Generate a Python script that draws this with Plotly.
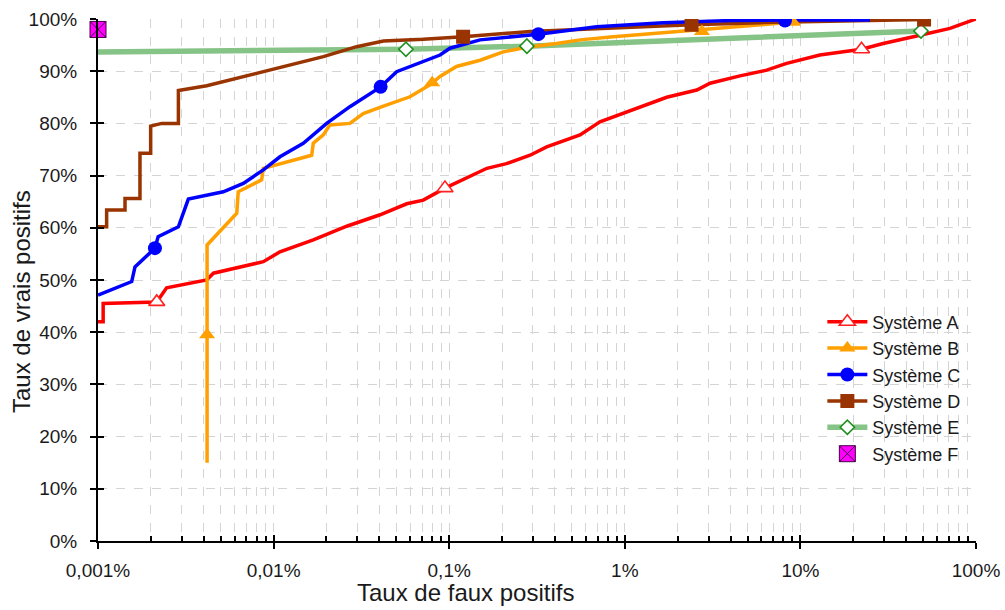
import plotly.graph_objects as go

# ---------------- data (x = taux de faux positifs in %, y = taux de vrais positifs in %) ----------------
A_x = [0.001, 0.00107, 0.00107, 0.00216, 0.00246, 0.00313, 0.00416, 0.00454, 0.00644, 0.00874,
       0.01087, 0.01683, 0.0261, 0.0404, 0.0573, 0.0712, 0.0946, 0.126, 0.164, 0.212,
       0.289, 0.359, 0.556, 0.722, 1.117, 1.733, 2.57, 3.06, 4.53, 6.43,
       8.35, 12.9, 22.3, 29.6, 48.0, 71.1, 100]
A_y = [42.0, 42.0, 45.5, 45.8, 48.5, 49.2, 50.0, 51.3, 52.5, 53.5,
       55.4, 57.7, 60.3, 62.5, 64.6, 65.3, 67.6, 69.5, 71.4, 72.3,
       73.9, 75.5, 77.8, 80.3, 82.6, 85.0, 86.4, 87.7, 89.1, 90.2,
       91.5, 93.1, 94.2, 95.3, 96.9, 98.2, 100]
A_mx = [0.00216, 0.0946, 22.3]
A_my = [45.8, 67.6, 94.2]

B_x = [0.00418, 0.00418, 0.00617, 0.00629, 0.00855, 0.00874, 0.01648, 0.01683, 0.0192, 0.0209,
       0.0272, 0.0324, 0.0422, 0.0598, 0.0777, 0.0887, 0.110, 0.150, 0.203, 0.276,
       0.409, 0.556, 0.860, 1.333, 1.976, 2.75, 5.16, 9.08]
B_y = [15.0, 56.7, 62.8, 66.9, 69.2, 71.4, 73.9, 76.2, 77.8, 79.7,
       80.0, 81.9, 83.3, 85.1, 87.4, 89.0, 90.9, 92.1, 93.7, 94.6,
       95.3, 96.0, 96.6, 97.1, 97.6, 98.0, 98.6, 99.4]
B_mx = [0.00418, 0.08, 2.75, 9.08]
B_my = [39.5, 87.8, 97.6, 99.4]

C_x = [0.001, 0.001556, 0.001624, 0.00211, 0.0022, 0.00287, 0.00306, 0.00327, 0.00517, 0.00672,
       0.00874, 0.01087, 0.01476, 0.02005, 0.0272, 0.0354, 0.0407, 0.0502, 0.0712, 0.0887,
       0.101, 0.150, 0.322, 0.692, 1.656, 3.97, 8.17, 24.9]
C_y = [47.1, 49.7, 52.5, 56.1, 58.3, 60.2, 62.8, 65.5, 66.9, 68.5,
       71.1, 73.6, 76.2, 80.0, 83.2, 85.8, 87.0, 89.9, 91.8, 93.1,
       94.4, 96.0, 97.1, 98.5, 99.3, 99.7, 99.8, 99.8]
C_mx = [0.00211, 0.0407, 0.322, 8.17]
C_my = [56.1, 87.0, 97.1, 99.7]

D_x = [0.001, 0.00112, 0.00112, 0.001425, 0.001425, 0.001734, 0.001734, 0.001995, 0.001995, 0.002306,
       0.00287, 0.00287, 0.00416, 0.00617, 0.00874, 0.0124, 0.0192, 0.0297, 0.0422, 0.0712,
       0.0887, 0.120, 0.289, 0.692, 2.40, 5.89, 19.1, 50.6]
D_y = [60.2, 60.2, 63.4, 63.4, 65.6, 65.6, 74.3, 74.3, 79.5, 80.0,
       80.0, 86.3, 87.2, 88.6, 89.9, 91.2, 92.8, 94.7, 95.8, 96.1,
       96.3, 96.6, 97.6, 98.2, 98.9, 99.3, 99.6, 99.9]
D_mx = [0.120, 2.40, 50.6]
D_my = [96.6, 98.9, 99.9]

E_x = [0.001, 0.003, 0.01, 0.0567, 0.277, 1.0, 5.0, 20.0, 48.6]
E_y = [93.7, 93.9, 94.0, 94.2, 94.8, 95.5, 96.3, 97.0, 97.7]
E_mx = [0.0567, 0.277, 48.6]
E_my = [94.2, 94.8, 97.7]

F_x = [0.001]
F_y = [98.0]

names = ["Système A", "Système B", "Système C", "Système D", "Système E", "Système F"]

x_tickvals = [0.001, 0.01, 0.1, 1, 10, 100]
x_ticktext = ["0,001%", "0,01%", "0,1%", "1%", "10%", "100%"]
y_tickvals = [0, 10, 20, 30, 40, 50, 60, 70, 80, 90, 100]
y_ticktext = [f"{v}%" for v in y_tickvals]

x_title = "Taux de faux positifs"
y_title = "Taux de vrais positifs"

# ---------------- figure ----------------
FONT = "Liberation Sans, Arial, sans-serif"


def gapped(vals):
    out = []
    for v in vals:
        out += [v, None]
    return out[:-1]


fig = go.Figure()

series = [
    (E_x, E_y, E_mx, E_my, names[4], "#86c386", 5.5,
     dict(symbol="diamond", size=11, color="white", line=dict(color="#1f8f1f", width=1.6))),
    (A_x, A_y, A_mx, A_my, names[0], "#ff0000", 3.5,
     dict(symbol="triangle-up", size=14, color="white", line=dict(color="#ff2020", width=1.6))),
    (B_x, B_y, B_mx, B_my, names[1], "#ffa000", 3.5,
     dict(symbol="triangle-up", size=14, color="#ffa000", line=dict(width=0))),
    (D_x, D_y, D_mx, D_my, names[3], "#993300", 3.5,
     dict(symbol="square", size=14, color="#993300", line=dict(width=0))),
    (C_x, C_y, C_mx, C_my, names[2], "#0000ff", 3.5,
     dict(symbol="circle", size=14, color="#0000ff", line=dict(width=0))),
]

rank = {names[i]: i for i in range(6)}

for sx, sy, mx, my, nm, col, w, mk in series:
    fig.add_trace(go.Scatter(x=sx, y=sy, mode="lines", line=dict(color=col, width=w),
                             legendgroup=nm, showlegend=False, hoverinfo="skip"))
for sx, sy, mx, my, nm, col, w, mk in series:
    fig.add_trace(go.Scatter(x=gapped(mx), y=gapped(my), mode="lines+markers",
                             line=dict(color=col, width=w), marker=mk, connectgaps=False,
                             name=nm, legendgroup=nm, legendrank=rank[nm]))

fig.add_trace(go.Scatter(x=F_x, y=F_y, mode="markers", name=names[5], legendrank=5,
                         marker=dict(symbol="square-x", size=16, color="#ff00ff",
                                     line=dict(color="#440044", width=1)),
                         cliponaxis=False))

# empty trace on overlay axes so the crossing (inside) ticks are drawn
fig.add_trace(go.Scatter(x=[], y=[], xaxis="x2", yaxis="y2", showlegend=False, hoverinfo="skip"))

fig.update_layout(
    width=1005, height=610,
    margin=dict(l=98, r=29, t=19, b=69),
    paper_bgcolor="white", plot_bgcolor="white",
    font=dict(family=FONT, size=19, color="#1a1a1a"),
    legend=dict(x=0.825, y=0.455, xanchor="left", yanchor="top",
                bgcolor="rgba(0,0,0,0)", font=dict(size=18), tracegroupgap=0,
                itemwidth=40),
    showlegend=True,
    annotations=[
        dict(text=x_title, xref="paper", yref="paper", x=(465 - 98) / 878, y=(541 - 592) / 522,
             xanchor="center", yanchor="middle", showarrow=False, font=dict(size=24)),
        dict(text=y_title, xref="paper", yref="paper", x=(21 - 98) / 878, y=(541 - 302) / 522,
             xanchor="center", yanchor="middle", showarrow=False, textangle=-90,
             font=dict(size=24)),
    ],
)

fig.update_xaxes(
    type="log", range=[-3, 2.0], automargin=False,
    tickmode="array", tickvals=x_tickvals, ticktext=x_ticktext,
    showline=True, linecolor="black", linewidth=2,
    ticks="outside", ticklen=6, tickwidth=2, tickcolor="black",
    ticklabelstandoff=5,
    showgrid=True, gridcolor="#d4d4d4", griddash="dash", gridwidth=1,
    minor=dict(tickmode="array",
               tickvals=[d * 10 ** e for e in range(-3, 2) for d in range(2, 10)],
               ticks="inside", ticklen=5, tickwidth=1.5, tickcolor="black",
               showgrid=True, gridcolor="#d4d4d4", griddash="dash", gridwidth=1),
    tickfont=dict(size=19),
    zeroline=False,
)

fig.update_yaxes(
    range=[0, 100], automargin=False,
    tickmode="array", tickvals=y_tickvals, ticktext=y_ticktext,
    showline=True, linecolor="black", linewidth=2,
    ticks="outside", ticklen=6, tickwidth=2, tickcolor="black",
    ticklabelstandoff=9,
    showgrid=True, gridcolor="#d4d4d4", griddash="dash", gridwidth=1,
    tickfont=dict(size=19),
    zeroline=False,
)

fig.update_layout(
    xaxis2=dict(type="log", range=[-3, 2.0], overlaying="x", side="bottom", anchor="y2",
                tickmode="array", tickvals=x_tickvals, ticks="inside", ticklen=6,
                tickwidth=2, tickcolor="black", showticklabels=False, showgrid=False,
                showline=False, zeroline=False, automargin=False),
    yaxis2=dict(range=[0, 100], overlaying="y", side="left", anchor="x2",
                tickmode="array", tickvals=y_tickvals, ticks="inside", ticklen=6,
                tickwidth=2, tickcolor="black", showticklabels=False, showgrid=False,
                showline=False, zeroline=False, automargin=False),
)

fig.write_html(
    "out.html",
    config={"displayModeBar": False},
    post_script="document.body.style.margin='0';document.body.style.padding='0';"
                "document.body.style.overflow='hidden';",
)
